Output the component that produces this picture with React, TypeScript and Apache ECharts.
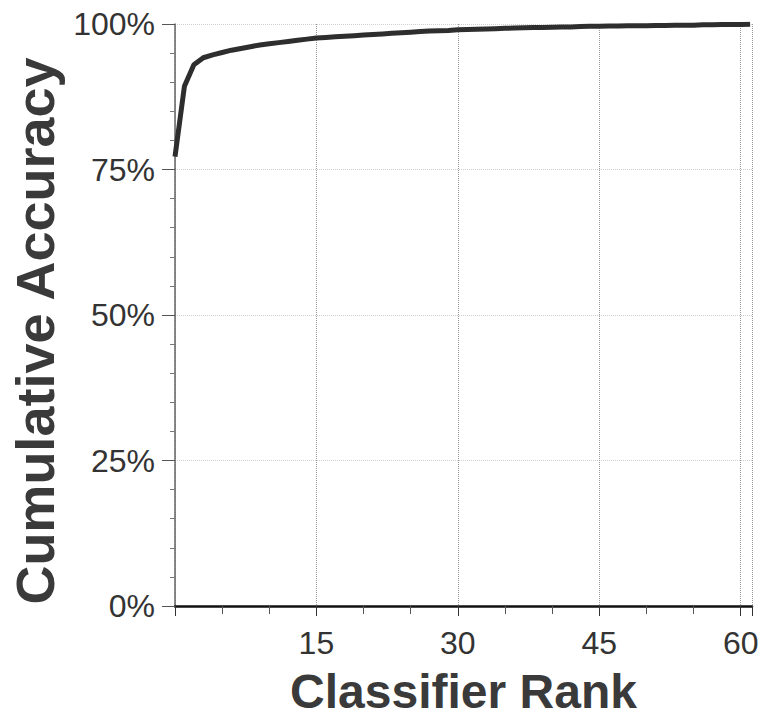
import React, { useEffect, useRef } from "react";
import * as echarts from "echarts";

const ranks: number[] = [
  0, 1, 2, 3, 4, 5, 6, 7, 8, 9, 10, 11, 12, 13, 14, 15, 16, 17, 18, 19, 20,
  21, 22, 23, 24, 25, 26, 27, 28, 29, 30, 31, 32, 33, 34, 35, 36, 37, 38, 39,
  40, 41, 42, 43, 44, 45, 46, 47, 48, 49, 50, 51, 52, 53, 54, 55, 56, 57, 58,
  59, 60, 61,
];
const accuracy: number[] = [
  77.2, 89.3, 93.0, 94.2, 94.7, 95.1, 95.5, 95.8, 96.1, 96.4, 96.6, 96.8, 97.0,
  97.2, 97.4, 97.6, 97.7, 97.8, 97.9, 98.0, 98.1, 98.2, 98.3, 98.4, 98.5, 98.6,
  98.7, 98.8, 98.85, 98.9, 99.0, 99.05, 99.1, 99.15, 99.2, 99.25, 99.3, 99.35,
  99.4, 99.4, 99.45, 99.5, 99.5, 99.55, 99.6, 99.6, 99.65, 99.65, 99.7, 99.7,
  99.7, 99.75, 99.75, 99.8, 99.8, 99.8, 99.85, 99.85, 99.9, 99.9, 99.9, 99.95,
];
const xTitle = "Classifier Rank";
const yTitle = "Cumulative Accuracy";

export default function App() {
  const ref = useRef<HTMLDivElement>(null);
  useEffect(() => {
    if (!ref.current) return;
    const chart = echarts.init(ref.current, null, { renderer: "svg" });
    const font = "Liberation Sans, Arial, Helvetica, sans-serif";
    chart.setOption({
      animation: false,
      backgroundColor: "#ffffff",
      grid: { left: 175, right: 13, top: 24, bottom: 115, containLabel: false },
      xAxis: {
        type: "value",
        min: 0,
        max: 61.2,
        interval: 15,
        name: xTitle,
        nameLocation: "middle",
        nameGap: 61,
        nameTextStyle: { fontFamily: font, fontSize: 48, fontWeight: "bold", color: "#3a3a3a" },
        axisLine: { show: true, onZero: false, lineStyle: { color: "#111", width: 2.5 } },
        axisTick: { show: true, inside: false, length: 10, lineStyle: { color: "#333", width: 1 } },
        minorTick: { show: true, splitNumber: 3, length: 8, lineStyle: { color: "#555", width: 1 } },
        axisLabel: {
          fontFamily: font,
          fontSize: 32,
          color: "#333",
          margin: 21,
          showMaxLabel: false,
          formatter: (v: number) => (v === 0 ? "" : String(v)),
        },
        splitLine: { show: true, lineStyle: { color: "#9a9a9a", type: "dotted", width: 1 } },
      },
      yAxis: {
        type: "value",
        min: 0,
        max: 100,
        interval: 25,
        name: yTitle,
        nameLocation: "middle",
        nameGap: 104,
        nameRotate: 90,
        nameTextStyle: {
          fontFamily: font,
          fontSize: 54,
          fontWeight: "bold",
          color: "#3a3a3a",
          padding: [0, 32, 0, 0],
        },
        axisLine: { show: true, lineStyle: { color: "#666", width: 1.5 } },
        axisTick: { show: true, inside: false, length: 13, lineStyle: { color: "#555", width: 1 } },
        minorTick: { show: true, splitNumber: 5, length: 5, lineStyle: { color: "#777", width: 1 } },
        axisLabel: {
          fontFamily: font,
          fontSize: 32,
          color: "#333",
          margin: 20,
          formatter: (v: number) => v + "%",
        },
        splitLine: { show: true, lineStyle: { color: "#cfcfcf", type: "dotted", width: 1 } },
      },
      series: [
        {
          type: "line",
          data: ranks.map((r, i) => [r, accuracy[i]]),
          showSymbol: false,
          symbol: "none",
          smooth: false,
          lineStyle: { color: "#2e2e2e", width: 5 },
          z: 5,
        },
      ],
    });
    return () => chart.dispose();
  }, []);
  return <div ref={ref} style={{ width: 765, height: 721, position: "absolute", left: 0, top: 0 }} />;
}
